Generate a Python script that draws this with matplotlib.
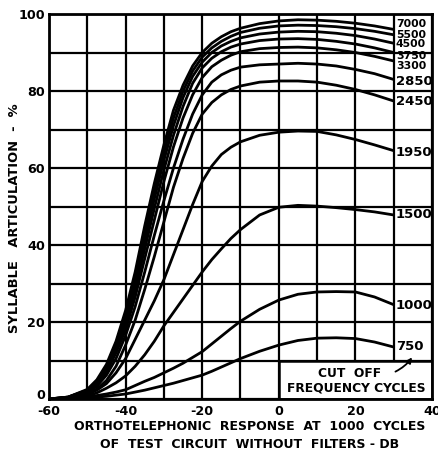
import matplotlib
matplotlib.use("Agg")
import matplotlib.pyplot as plt
from matplotlib.patches import Rectangle, FancyArrowPatch

# response in dB (x) and syllable articulation in % (y)
response_db = [-60, -55, -50, -47.5, -45, -42.5, -40, -37.5, -35, -32.5, -30, -27.5,
               -25, -22.5, -20, -17.5, -15, -12.5, -10, -5, 0, 5, 10, 15, 20, 25, 30]

art_7000 = [0, 0.5, 2.5, 5, 9, 15, 23, 33, 45, 56, 66, 75,
            81.5, 86.5, 90, 92.4, 94.1, 95.4, 96.3, 97.5, 98.2, 98.5, 98.4, 98.1, 97.6, 96.9, 96]
art_5500 = [0, 0.5, 2.3, 4.6, 8.4, 14.2, 22, 31.5, 43, 54, 64, 73,
            80, 85.2, 88.8, 91.2, 92.9, 94.2, 95.2, 96.3, 96.9, 97.1, 97, 96.7, 96.2, 95.5, 94.6]
art_4500 = [0, 0.5, 2.2, 4.3, 8, 13.5, 20.5, 30, 41, 52, 62, 71,
            78.3, 83.8, 87.5, 90, 91.7, 92.9, 93.8, 94.8, 95.3, 95.5, 95.4, 95, 94.4, 93.5, 92.4]
art_3750 = [0, 0.4, 2, 4, 7.5, 12.8, 19.5, 28.5, 39, 49.5, 59.5, 68.5,
            76, 82, 86, 88.5, 90.2, 91.4, 92.2, 93.1, 93.5, 93.6, 93.4, 92.9, 92.2, 91.2, 90]
art_3300 = [0, 0.4, 1.8, 3.7, 7, 12, 18, 26.5, 36.5, 46.5, 56.5, 65.5,
            73, 79, 83.5, 86.3, 88, 89.3, 90.2, 91, 91.3, 91.4, 91.2, 90.7, 90, 89, 87.8]
art_2850 = [0, 0.3, 1.6, 3.3, 6.2, 10.5, 16.5, 24, 33, 42.5, 51.5, 60,
            67.5, 74, 79, 82.3, 84.2, 85.4, 86.2, 86.8, 87, 87.2, 87, 86.5, 85.6, 84.5, 83]
art_2450 = [0, 0.3, 1.3, 2.6, 4.8, 8.5, 14, 20.5, 28.5, 37, 46, 55,
            62.5, 69, 74, 77, 79, 80.4, 81.3, 82.3, 82.6, 82.6, 82.3, 81.5, 80.4, 79, 77.4]
art_1950 = [0, 0.2, 1.2, 2.3, 4, 6.8, 10.5, 15.5, 20.5, 25.5, 31, 37.5,
            44, 50.5, 56.5, 60.5, 63.5, 65.4, 66.8, 68.5, 69.3, 69.6, 69.5, 68.6, 67.4, 66, 64.5]
art_1500 = [0, 0.2, 0.8, 1.6, 2.8, 4.2, 6, 8.5, 11.5, 15, 19, 22.5,
            26, 29.5, 33, 36.2, 39, 41.7, 44, 47.8, 49.8, 50.3, 50.1, 49.7, 49.2, 48.6, 47.8]
art_1000 = [0, 0.1, 0.5, 0.9, 1.3, 1.8, 2.4, 3.5, 4.6, 5.6, 6.8, 8,
            9.3, 10.8, 12.3, 14.3, 16.3, 18.3, 20.2, 23.3, 25.7, 27.2, 27.8, 27.9, 27.8, 26.5, 24.5]
art_750 = [0, 0.1, 0.3, 0.5, 0.7, 1, 1.3, 1.8, 2.3, 2.9, 3.5, 4.1,
           4.8, 5.5, 6.2, 7.2, 8.3, 9.4, 10.5, 12.4, 14, 15.2, 15.8, 15.9, 15.7, 14.8, 13.5]

cutoff_labels = ["7000", "5500", "4500", "3750", "3300", "2850",
                 "2450", "1950", "1500", "1000", "750"]
label_heights = [97.4, 94.6, 92.1, 89.2, 86.6, 82.5, 77.2, 64, 48, 24.3, 13.6]

curves = [art_7000, art_5500, art_4500, art_3750, art_3300, art_2850,
          art_2450, art_1950, art_1500, art_1000, art_750]

fig = plt.figure(figsize=(4.39, 4.55), dpi=100)
ax = fig.add_axes([49 / 439, 1 - 399 / 455, 383 / 439, 385 / 455])

for vals in curves:
    ax.plot(response_db, vals, color="black", lw=2.0, solid_capstyle="butt", zorder=3)

# labels of the curves on the right
for lab, yy in zip(cutoff_labels, label_heights):
    fs = 7.8 if yy > 85 else 9.5
    ax.text(30.6, yy, lab, fontsize=fs, fontweight="bold", ha="left", va="center", zorder=4)

# white box with the legend text in the lower right
ax.add_patch(Rectangle((0, 0), 40, 10, facecolor="white", edgecolor="black", lw=1.8, zorder=1.5))
ax.text(18.5, 6.6, "CUT  OFF", fontsize=8.8, fontweight="bold", ha="center", va="center", zorder=4)
ax.text(20.2, 2.8, "FREQUENCY CYCLES", fontsize=8.8, fontweight="bold", ha="center", va="center", zorder=4)
ax.add_patch(FancyArrowPatch((29.8, 6.8), (35.2, 11.4), arrowstyle="-|>", mutation_scale=8,
                             connectionstyle="arc3,rad=0.15", color="black", lw=1.3, zorder=4))

ax.set_xlim(-60, 40)
ax.set_ylim(0, 100)
ax.set_xticks(range(-60, 41, 10))
ax.set_xticklabels([str(v) if v % 20 == 0 else "" for v in range(-60, 41, 10)])
ax.set_yticks(range(0, 101, 10))
ax.set_yticklabels([str(v) if v % 20 == 0 else "" for v in range(0, 101, 10)])
ax.set_axisbelow(True)
ax.grid(True, color="black", lw=1.6)
ax.tick_params(length=0, labelsize=9.2)
ax.tick_params(axis="x", pad=4.5)
ax.tick_params(axis="y", pad=3)
for t in ax.get_xticklabels() + ax.get_yticklabels():
    t.set_fontweight("bold")
# the "0" sits just above the bottom line, clear of "-60"
ax.get_yticklabels()[0].set_verticalalignment("baseline")
for sp in ax.spines.values():
    sp.set_linewidth(2)

fig.text(15 / 439, 1 - 218 / 455, "SYLLABLE   ARTICULATION  -  %", rotation=90, fontsize=9.4,
         fontweight="bold", ha="center", va="center")
fig.text(250 / 439, 1 - 427 / 455, "ORTHOTELEPHONIC  RESPONSE  AT  1000  CYCLES", fontsize=9,
         fontweight="bold", ha="center", va="center")
fig.text(250 / 439, 1 - 445 / 455, "OF  TEST  CIRCUIT  WITHOUT  FILTERS - DB", fontsize=9,
         fontweight="bold", ha="center", va="center")

fig.savefig("out.png", dpi=100)
